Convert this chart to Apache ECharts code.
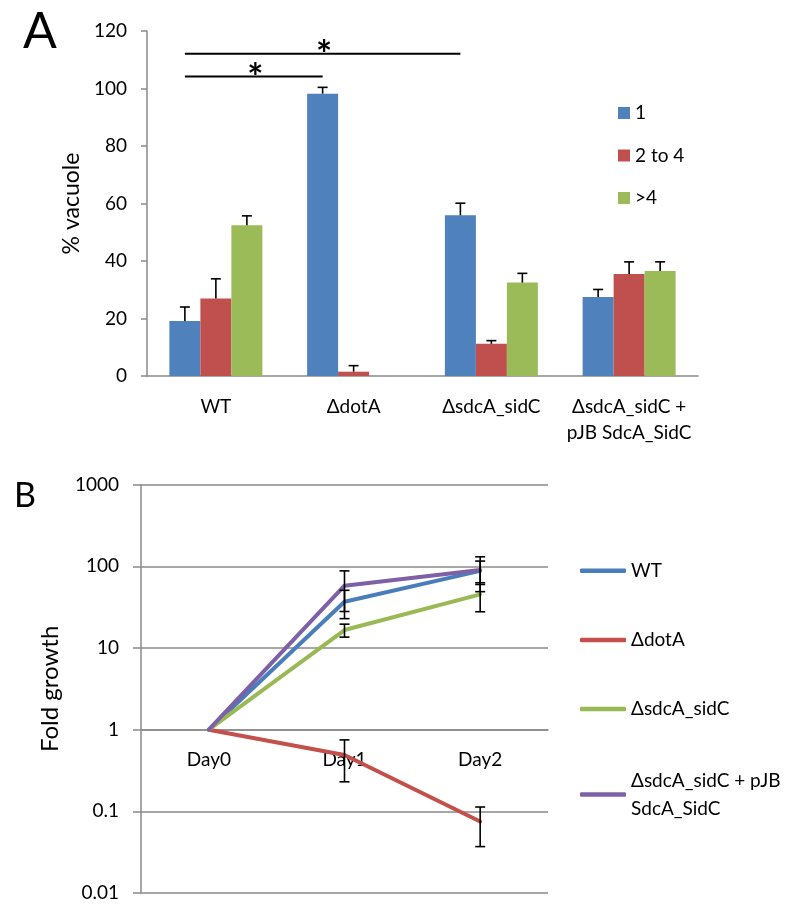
<!DOCTYPE html>
<html><head><meta charset="utf-8">
<script src="https://cdn.jsdelivr.net/npm/echarts@6/dist/echarts.min.js"></script>
<style>html,body{margin:0;padding:0;background:#fff}#c{width:800px;height:918px}</style>
</head><body><div id="c"></div><script>
// ---------- Panel A data ----------
const vacCategories = ['WT', 'ΔdotA', 'ΔsdcA_sidC', 'ΔsdcA_sidC +\npJB SdcA_SidC'];
const vacNames = ['1', '2 to 4', '>4'];
const vacOne = [19.1, 98.2, 55.9, 27.5];
const vacOneErr = [4.9, 2.2, 4.2, 2.6];
const vacTwoToFour = [27.0, 1.5, 11.2, 35.5];
const vacTwoToFourErr = [6.8, 2.1, 1.1, 4.2];
const vacMoreFour = [52.4, 0, 32.5, 36.5];
const vacMoreFourErr = [3.3, 0, 3.2, 3.2];
const vacTicks = [0, 20, 40, 60, 80, 100, 120];
// significance: [from category, to category, bracket height]
const sigFrom = [0, 0];
const sigTo = [1, 2];
const sigHeight = [104.2, 112.1];
const sigText = ['*', '*'];

// ---------- Panel B data ----------
const days = ['Day0', 'Day1', 'Day2'];
const growthNames = ['WT', 'ΔdotA', 'ΔsdcA_sidC', 'ΔsdcA_sidC + pJB\nSdcA_SidC'];
const growthWT = [1, 36.9, 88];
const growthWTErr = [0, 14, 28];
const growthDotA = [1, 0.49, 0.075];
const growthDotAErr = [0, 0.26, 0.038];
const growthSdcA = [1, 16.6, 45.4];
const growthSdcAErr = [0, 3.0, 17.6];
const growthComp = [1, 58, 90];
const growthCompErr = [0, 30, 41];
const growthTicks = [0.01, 0.1, 1, 10, 100, 1000];

const FONT = "Lato, 'Open Sans', sans-serif";
const AXIS = '#8a8a8a';
const barColors = ['#4f81bd', '#c0504d', '#9bbb59'];
const lineColors = ['#4a7ebb', '#c4504c', '#98b954', '#7d60a5'];

const vacVals = [vacOne, vacTwoToFour, vacMoreFour];
const vacErrs = [vacOneErr, vacTwoToFourErr, vacMoreFourErr];
const BAR_FRAC = 0.225;

const vacErrData = [];
vacVals.forEach((arr, s) => arr.forEach((v, c) => vacErrData.push([c, s, v, vacErrs[s][c]])));
const sigData = sigFrom.map((f, i) => [f, sigTo[i], sigHeight[i], i]);

const growthVals = [growthWT, growthDotA, growthSdcA, growthComp];
const growthErrs = [growthWTErr, growthDotAErr, growthSdcAErr, growthCompErr];
const growthErrData = [];
growthVals.forEach((arr, s) => arr.forEach((v, d) => {
  const e = growthErrs[s][d];
  if (e > 0) growthErrData.push([d, v - e, v + e]);
}));

const chart = echarts.init(document.getElementById('c'), null, {renderer: 'canvas'});

const FS = 19;
const txt = () => ({color: '#000', fontFamily: FONT, fontSize: FS});
const legendBase = {icon: 'roundRect', itemWidth: 46, itemHeight: 4.5, padding: 0, left: 580};

const option = {
  backgroundColor: '#fff',
  animation: false,
  textStyle: {fontFamily: FONT, color: '#000'},
  title: [
    {text: 'A', left: 23, top: 7, padding: 0, textStyle: {fontFamily: FONT, fontSize: 50, fontWeight: 'normal', color: '#000'}},
    {text: 'B', left: 14, top: 479, padding: 0, textStyle: {fontFamily: FONT, fontSize: 34, fontWeight: 'normal', color: '#000'}}
  ],
  legend: [
    {data: vacNames, orient: 'vertical', left: 618, top: 103, padding: 0, icon: 'rect', itemWidth: 12, itemHeight: 12,
     itemGap: 22.5, textStyle: Object.assign(txt(), {lineHeight: 20})},
    Object.assign({data: [growthNames[0]], top: 560.7, textStyle: Object.assign(txt(), {lineHeight: 20})}, legendBase),
    Object.assign({data: [growthNames[1]], top: 630, textStyle: Object.assign(txt(), {lineHeight: 20})}, legendBase),
    Object.assign({data: [growthNames[2]], top: 699, textStyle: Object.assign(txt(), {lineHeight: 20})}, legendBase),
    Object.assign({data: [growthNames[3]], top: 752.6, textStyle: Object.assign(txt(), {lineHeight: 28, padding: [28, 0, 0, 0]})}, legendBase)
  ],
  grid: [
    {left: 147, right: 102, top: 31, bottom: 542},
    {left: 141, right: 252, top: 484.7, bottom: 25}
  ],
  xAxis: [
    {gridIndex: 0, type: 'category', data: vacCategories, boundaryGap: true,
     axisLine: {lineStyle: {color: AXIS, width: 1.5}},
     axisTick: {length: 7, lineStyle: {color: AXIS, width: 1.5}},
     axisLabel: Object.assign(txt(), {margin: 18, lineHeight: 26, interval: 0})},
    {gridIndex: 1, type: 'category', data: days, boundaryGap: true, offset: -163.3,
     axisLine: {lineStyle: {color: AXIS, width: 1.5}},
     axisTick: {length: 6, lineStyle: {color: AXIS, width: 1.5}},
     axisLabel: Object.assign(txt(), {margin: 20, lineHeight: 20})}
  ],
  yAxis: [
    {gridIndex: 0, type: 'value', min: 0, max: 120, interval: 20,
     name: '% vacuole', nameLocation: 'middle', nameGap: 64,
     nameTextStyle: {fontSize: 23, color: '#000', fontFamily: FONT},
     axisLine: {show: true, lineStyle: {color: AXIS, width: 1.5}},
     axisTick: {show: true, length: 6, lineStyle: {color: AXIS, width: 1.5}},
     splitLine: {show: false},
     axisLabel: Object.assign(txt(), {margin: 20, formatter: v => vacTicks.includes(v) ? String(v) : ''})},
    {gridIndex: 1, type: 'log', logBase: 10, min: 0.01, max: 1000, splitNumber: 5,
     name: 'Fold growth', nameLocation: 'middle', nameGap: 79,
     nameTextStyle: {fontSize: 24, color: '#000', fontFamily: FONT},
     axisLine: {show: true, lineStyle: {color: AXIS, width: 1.5}},
     axisTick: {show: true, length: 8, lineStyle: {color: AXIS, width: 1.5}},
     splitLine: {show: true, lineStyle: {color: AXIS, width: 1.5}},
     axisLabel: Object.assign(txt(), {margin: 22, formatter: v => {
       const r = growthTicks.find(t => Math.abs(Math.log10(t) - Math.log10(v)) < 1e-6);
       return r !== undefined ? String(r) : '';
     }})}
  ],
  series: [
    ...vacNames.map((n, s) => ({
      name: n, type: 'bar', xAxisIndex: 0, yAxisIndex: 0, data: vacVals[s],
      barWidth: (BAR_FRAC * 100) + '%', barGap: '0%', itemStyle: {color: barColors[s]}
    })),
    {
      type: 'custom', xAxisIndex: 0, yAxisIndex: 0, data: vacErrData, z: 5,
      encode: {x: 0, y: 2},
      renderItem: (params, api) => {
        const c = api.value(0), s = api.value(1), v = api.value(2), e = api.value(3);
        if (!e) return null;
        const bw = api.size([1, 0])[0] * BAR_FRAC;
        const p0 = api.coord([c, v]), p1 = api.coord([c, v + e]);
        const x = p0[0] + (s - 1) * bw;
        const st = {stroke: '#000', lineWidth: 1.6};
        return {type: 'group', children: [
          {type: 'line', shape: {x1: x, y1: p0[1], x2: x, y2: p1[1]}, style: st},
          {type: 'line', shape: {x1: x - 5, y1: p1[1], x2: x + 5, y2: p1[1]}, style: st}
        ]};
      }
    },
    {
      type: 'custom', xAxisIndex: 0, yAxisIndex: 0, data: sigData, z: 5,
      encode: {x: [0, 1], y: 2},
      renderItem: (params, api) => {
        const f = api.value(0), t = api.value(1), h = api.value(2), i = api.value(3);
        const bw = api.size([1, 0])[0] * BAR_FRAC;
        const a = api.coord([f, h]), b = api.coord([t, h]);
        const x1 = a[0] - bw, x2 = b[0] - bw;
        return {type: 'group', children: [
          {type: 'line', shape: {x1: x1, y1: a[1], x2: x2, y2: a[1]}, style: {stroke: '#000', lineWidth: 2}},
          {type: 'text', x: (x1 + x2) / 2 + 1.5, y: a[1] + 2, style: {text: sigText[i], fontSize: 38, fontWeight: 'bold',
            fontFamily: FONT, fill: '#000', align: 'center', verticalAlign: 'middle'}}
        ]};
      }
    },
    ...growthNames.map((n, s) => ({
      name: n, type: 'line', xAxisIndex: 1, yAxisIndex: 1, data: growthVals[s],
      symbol: 'none', itemStyle: {color: lineColors[s]},
      lineStyle: {color: lineColors[s], width: 4, cap: 'round', join: 'round'}
    })),
    {
      type: 'custom', xAxisIndex: 1, yAxisIndex: 1, data: growthErrData, z: 5,
      encode: {x: 0, y: [1, 2]},
      renderItem: (params, api) => {
        const d = api.value(0), lo = api.value(1), hi = api.value(2);
        const a = api.coord([d, lo]), b = api.coord([d, hi]);
        const st = {stroke: '#000', lineWidth: 1.6};
        return {type: 'group', children: [
          {type: 'line', shape: {x1: a[0], y1: a[1], x2: a[0], y2: b[1]}, style: st},
          {type: 'line', shape: {x1: a[0] - 5, y1: a[1], x2: a[0] + 5, y2: a[1]}, style: st},
          {type: 'line', shape: {x1: a[0] - 5, y1: b[1], x2: a[0] + 5, y2: b[1]}, style: st}
        ]};
      }
    }
  ]
};
chart.setOption(option);
// place panel B category axis at value 1 (Excel crossing)
const yOne = chart.convertToPixel({yAxisIndex: 1}, 1);
const gridBottomPx = 918 - 25;
chart.setOption({xAxis: [{}, {offset: yOne - gridBottomPx}]});
</script></body></html>
